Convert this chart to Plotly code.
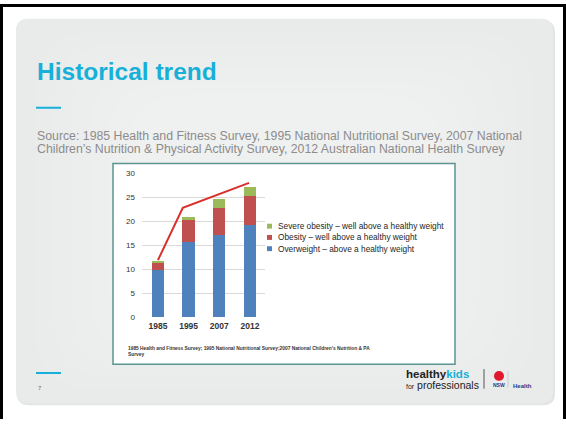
import plotly.graph_objects as go

W, H = 566, 424

years = ["1985", "1995", "2007", "2012"]
overweight = [9.9, 15.6, 17.1, 19.2]
obesity = [1.5, 4.6, 5.7, 6.1]
severe = [0.2, 0.7, 1.8, 1.9]
trend_x = [0, 0.81, 2.97]
trend_y = [11.9, 22.8, 28.0]
legend_labels = [
    "Severe obesity \u2013 well above a healthy weight",
    "Obesity \u2013 well above a healthy weight",
    "Overweight \u2013 above a healthy weight",
]
y_ticks = [0, 5, 10, 15, 20, 25, 30]

C_BLUE = "#4f81bd"
C_RED = "#c0504d"
C_GREEN = "#9bbb59"
C_LINE = "#d9302c"
CYAN = "#17b0d8"
FONT = "Liberation Sans, Arial"


def px(x):
    return x / W


def py(y):
    return 1 - y / H


fig = go.Figure()
xs = list(range(len(years)))
for name, vals, col in [
    ("Overweight", overweight, C_BLUE),
    ("Obesity", obesity, C_RED),
    ("Severe obesity", severe, C_GREEN),
]:
    fig.add_trace(go.Bar(x=xs, y=vals, name=name, marker=dict(color=col, line=dict(width=0)),
                         width=0.4, showlegend=False))
fig.add_trace(go.Scatter(x=trend_x, y=trend_y, mode="lines", line=dict(color=C_LINE, width=2),
                         showlegend=False))

shapes = []


def rrect(x0, y0, x1, y1, r):
    a0, b0, a1, b1 = x0, y0, x1, y1
    return (f"M {px(a0+r)},{py(b0)} L {px(a1-r)},{py(b0)} Q {px(a1)},{py(b0)} {px(a1)},{py(b0+r)} "
            f"L {px(a1)},{py(b1-r)} Q {px(a1)},{py(b1)} {px(a1-r)},{py(b1)} "
            f"L {px(a0+r)},{py(b1)} Q {px(a0)},{py(b1)} {px(a0)},{py(b1-r)} "
            f"L {px(a0)},{py(b0+r)} Q {px(a0)},{py(b0)} {px(a0+r)},{py(b0)} Z")


# slide shadow and body
shapes.append(dict(type="path", path=rrect(17, 17, 555, 410, 12), xref="paper", yref="paper",
                   fillcolor="#e3e4e4", line=dict(width=0), layer="below"))
shapes.append(dict(type="path", path=rrect(16, 15, 553, 408, 12), xref="paper", yref="paper",
                   fillcolor="#e9eaea", line=dict(width=0), layer="below"))
for i in range(6):
    m = 20 + i * 18
    shapes.append(dict(type="path", path=rrect(16 + m, 15 + m * 0.7, 553 - m, 408 - m * 0.7, 60),
                       xref="paper", yref="paper", fillcolor="rgba(246,246,246,0.12)",
                       line=dict(width=0), layer="below"))
# black frame
for (x0, y0, x1, y1) in [(0, 0, 566, 3), (0, 0, 3, 424), (563, 0, 566, 424)]:
    shapes.append(dict(type="rect", xref="paper", yref="paper", x0=px(x0), x1=px(x1), y0=py(y1), y1=py(y0),
                       fillcolor="black", line=dict(width=0), layer="below"))
# chart box
shapes.append(dict(type="rect", xref="paper", yref="paper", x0=px(113), x1=px(455), y0=py(368), y1=py(163),
                   fillcolor="white", line=dict(color="#5b958f", width=1.5), layer="below"))
# cyan short rules
for yy in [106, 377]:
    shapes.append(dict(type="line", xref="paper", yref="paper", x0=px(36), x1=px(61), y0=py(yy), y1=py(yy),
                       line=dict(color=CYAN, width=2)))
# logo separator
shapes.append(dict(type="line", xref="paper", yref="paper", x0=px(484), x1=px(484), y0=py(373), y1=py(393),
                   line=dict(color="#555", width=1)))
shapes.append(dict(type="line", xref="paper", yref="paper", x0=px(508), x1=px(508), y0=py(375), y1=py(392),
                   line=dict(color="#bbb", width=0.6)))
# NSW waratah (approx)
shapes.append(dict(type="circle", xref="paper", yref="paper", x0=px(494), x1=px(504), y0=py(385), y1=py(375),
                   fillcolor="#e0192f", line=dict(width=0)))

# legend markers
leg_cols = [C_GREEN, C_RED, C_BLUE]
leg_y = [227, 238.5, 250]
for col, yy in zip(leg_cols, leg_y):
    shapes.append(dict(type="rect", xref="paper", yref="paper", x0=px(267), x1=px(272), y0=py(yy + 2.5),
                       y1=py(yy - 2.5), fillcolor=col, line=dict(width=0)))

ann = []
ann.append(dict(text="<b>Historical trend</b>", x=px(35), y=py(69), xanchor="left", yanchor="middle",
                font=dict(family=FONT, size=24.5, color=CYAN)))
ann.append(dict(text="Source: 1985 Health and Fitness Survey, 1995 National Nutritional Survey, 2007 National",
                x=px(35), y=py(135), xanchor="left", yanchor="middle",
                font=dict(family=FONT, size=12.3, color="#8c8c8c")))
ann.append(dict(text="Children\u2019s Nutrition &amp; Physical Activity Survey, 2012 Australian National Health Survey",
                x=px(35), y=py(148.5), xanchor="left", yanchor="middle",
                font=dict(family=FONT, size=12.3, color="#8c8c8c")))
for lab, yy in zip(legend_labels, leg_y):
    ann.append(dict(text=lab, x=px(276), y=py(yy), xanchor="left", yanchor="middle",
                    font=dict(family=FONT, size=8.3, color="#262626")))
ann.append(dict(text="<b>1985 Health and Fitness Survey; 1995 National Nutritional Survey;2007 National Children's Nutrition &amp; PA</b>",
                x=px(126), y=py(352), xanchor="left", yanchor="middle",
                font=dict(family=FONT, size=4.85, color="#333")))
ann.append(dict(text="<b>Survey</b>", x=px(126), y=py(358), xanchor="left", yanchor="middle",
                font=dict(family=FONT, size=4.85, color="#333")))
ann.append(dict(text="7", x=px(36), y=py(392), xanchor="left", yanchor="middle",
                font=dict(family=FONT, size=6, color="#666")))
ann.append(dict(text=("<span style='font-size:11.5px'><b>healthy</b><b><span style='color:%s'>kids</span></b></span>"
                      "<br><span style='font-size:7px'>for</span><span style='font-size:10.5px'> professionals</span>") % CYAN,
                x=px(404), y=py(384), xanchor="left", yanchor="middle", align="left",
                font=dict(family=FONT, size=8.6, color="#222")))
ann.append(dict(text="<b>NSW</b>", x=px(499), y=py(389), xanchor="center", yanchor="middle",
                font=dict(family=FONT, size=5, color="#1a3a8c")))
ann.append(dict(text="<b>Health</b>", x=px(511), y=py(390), xanchor="left", yanchor="middle",
                font=dict(family=FONT, size=6, color="#1a3a8c")))
for a in ann:
    a.update(xref="paper", yref="paper", showarrow=False)

fig.update_layout(
    width=W, height=H, margin=dict(l=0, r=0, t=0, b=0),
    paper_bgcolor="white", plot_bgcolor="rgba(0,0,0,0)",
    barmode="stack", bargap=0.6,
    shapes=shapes, annotations=ann, showlegend=False,
    xaxis=dict(domain=[px(142), px(265)], range=[-0.52, 3.49], tickmode="array", tickvals=xs,
               ticktext=["<b>%s</b>" % y for y in years], showgrid=False, zeroline=False,
               tickfont=dict(family=FONT, size=8.5, color="#333"), ticks="",
               ticklabelstandoff=2),
    yaxis=dict(domain=[py(320), py(173)], range=[0, 30], tickvals=y_ticks, showgrid=True,
               gridcolor="#d9d9d9", gridwidth=1, zeroline=False,
               tickfont=dict(family=FONT, size=8, color="#333"), ticks="",
               ticklabelstandoff=6),
)

fig.write_html("out.html")
